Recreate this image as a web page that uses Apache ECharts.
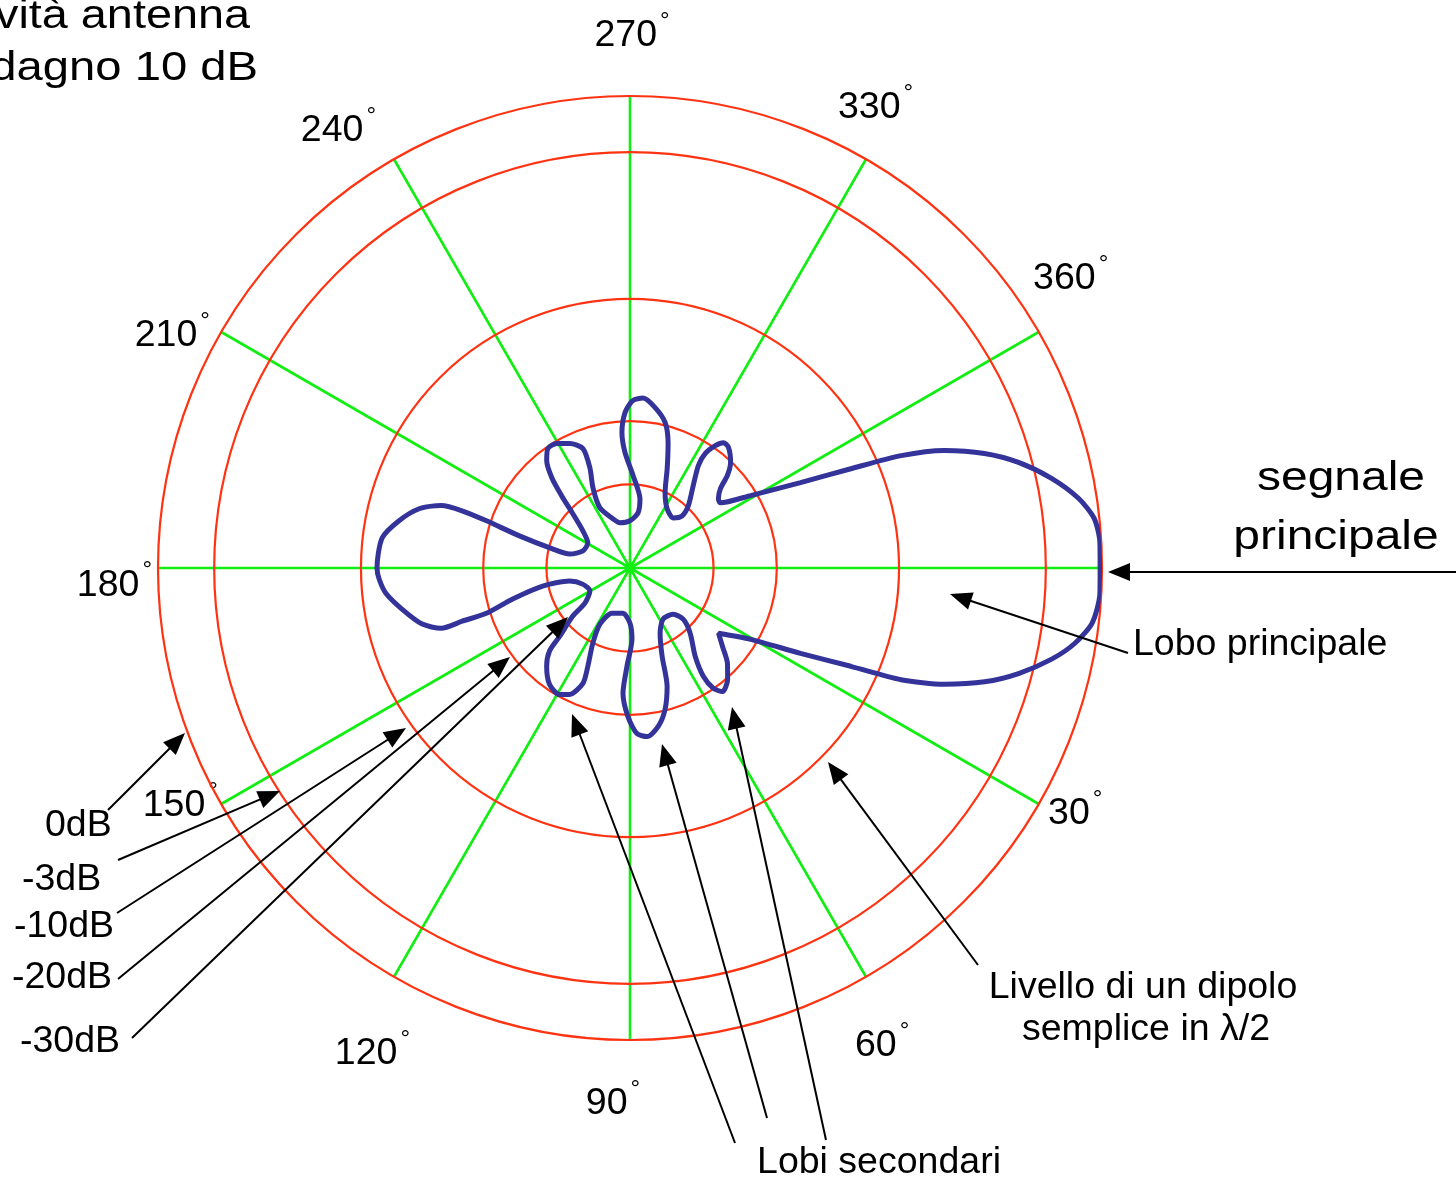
<!DOCTYPE html>
<html>
<head>
<meta charset="utf-8">
<script src="https://cdn.jsdelivr.net/npm/echarts@6/dist/echarts.min.js"></script>
<style>
html,body{margin:0;padding:0;background:#ffffff;}
#c{width:1456px;height:1182px;}
</style>
</head>
<body>
<div id="c"></div>
<script>
// ---- data ----
// reference rings: label and radius as % of the outer (0 dB) ring
const ringLabels = ['0dB', '-3dB', '-10dB', '-20dB', '-30dB'];
const ringLevels = [100, 88.1, 57.0, 31.1, 17.7];

// angle ticks (clockwise from the main-lobe direction) and their printed labels
const angleTicks = [0, 30, 60, 90, 120, 150, 180, 210, 240, 270, 300, 330];
const angleTickLabels = ['', '30', '60', '90', '120', '150', '180', '210', '240', '270', '330', '360'];

// radiation pattern, traced point by point (angle in degrees, level in % of outer ring)
const patternAngle = [0, 356.9, 353.9, 351.2, 348.0, 344.8, 342.1, 339.5, 337.5, 335.8, 333.4, 329.0, 324.2,
  321.9, 318.7, 316.5, 313.6, 309.2, 306.7, 304.9, 303.3, 303.7, 307.5, 313.1, 315.0, 310.7, 302.1, 295.0,
  290.5, 287.0, 283.6, 278.9, 274.4, 271.0, 268.2, 266.6, 267.5, 271.9, 278.2, 278.3, 270.0, 257.5, 250.9,
  243.4, 245.2, 248.2, 248.5, 244.2, 239.5, 235.4, 232.2, 229.1, 226.6, 223.5, 218.2, 210.8, 199.9, 193.1,
  193.9, 196.2, 198.2, 198.8, 198.3, 195.7, 191.5, 186.9, 180.0, 177.5, 174.1, 169.8, 164.9, 162.3, 162.4,
  162.5, 165.2, 168.3, 167.8, 161.2, 150.1, 142.1, 139.9, 135.8, 134.1, 130.3, 124.6, 119.1, 115.5, 112.2,
  113.2, 116.3, 118.2, 111.8, 98.8, 90.0, 88.4, 91.8, 93.2, 90.8, 87.6, 84.2, 79.9, 76.1, 72.6, 70.0, 65.2,
  57.1, 46.9, 43.9, 47.3, 53.6, 55.9, 55.3, 53.2, 48.8, 44.4, 40.3, 36.4, 30.6, 26.6, 24.0, 22.4, 20.3,
  17.8, 15.2, 12.2, 9.6, 6.8, 3.1, 360];
const patternLevel = [99.6, 99.7, 98.9, 96.2, 91.3, 85.3, 78.9, 71.1, 62.2, 51.3, 40.4, 29.8, 23.6,
  23.8, 25.5, 28.4, 30.9, 33.0, 33.1, 31.6, 29.0, 26.1, 22.0, 18.1, 15.6, 14.0, 14.8, 17.6,
  22.5, 27.6, 31.7, 34.4, 36.1, 35.5, 33.0, 28.8, 24.5, 19.6, 14.8, 11.8, 10.0, 9.8, 11.0,
  14.3, 18.7, 22.9, 27.2, 29.3, 30.6, 30.7, 28.8, 25.3, 21.1, 16.7, 12.7, 10.4, 10.6, 13.1,
  16.9, 24.4, 32.0, 37.6, 42.1, 46.4, 50.0, 52.9, 53.6, 53.2, 52.0, 49.1, 45.6, 42.0, 37.3,
  31.9, 25.7, 18.9, 13.1, 10.6, 9.8, 12.1, 15.9, 20.8, 24.5, 27.3, 30.0, 30.7, 29.7, 26.4,
  22.7, 17.8, 13.5, 10.3, 9.7, 11.7, 15.1, 20.9, 26.6, 31.5, 35.1, 35.9, 34.1, 30.9, 26.3, 19.9, 15.2,
  12.9, 13.4, 15.7, 18.8, 23.3, 27.7, 31.0, 32.7, 31.4, 28.9, 25.7, 23.3, 29.7, 40.4, 51.2, 62.1, 71.0,
  78.9, 85.3, 91.4, 95.6, 98.6, 99.7, 99.6];

// ---- layout / style ----
const CX = 630, CY = 568, R = 472;
const RED = '#ff3311', GREEN = '#11ee11', BLUE = '#33339a';
const FONT = '"Liberation Sans", Arial, Helvetica, sans-serif';
const FS = 37.5;
// per-label nudges (padding [top, right, bottom, left]) so tick labels sit where the original put them
const labelPad = [[0, 0, 0, 0], [29, 0, 0, 89], [122, 0, 0, 35], [129, 34, 0, 0], [130, 30, 0, 0],
  [21, 83, 0, 0], [27, 98, 0, 0], [0, 91, 23, 0], [0, 64, 89, 0], [0, 0, 133, 4], [0, 0, 112, 18], [0, 0, 80, 74]];

const chart = echarts.init(document.getElementById('c'), null, { renderer: 'canvas' });

const hiddenRadius = function (i) {
  return { polarIndex: i, type: 'value', min: 0, max: 100, show: false,
    axisLine: { show: false }, axisLabel: { show: false }, axisTick: { show: false },
    splitLine: { show: false }, splitArea: { show: false } };
};

// polar 0: pattern, spokes, outer ring
const polar = [{ center: [CX, CY], radius: R }];
const angleAxis = [{
  polarIndex: 0, type: 'value', min: 0, max: 360, interval: 30, startAngle: 0, clockwise: true,
  axisLine: { show: true, lineStyle: { color: RED, width: 2.2 } },
  axisTick: { show: false }, axisLabel: { show: false },
  splitLine: { show: true, lineStyle: { color: GREEN, width: 2.6 } },
  splitArea: { show: false }
}];
const radiusAxis = [hiddenRadius(0)];

// inner reference rings
ringLevels.slice(1).forEach(function (lv, k) {
  const i = k + 1;
  polar.push({ center: [CX, CY], radius: R * lv / 100 });
  angleAxis.push({
    polarIndex: i, type: 'value', min: 0, max: 360, startAngle: 0,
    axisLine: { show: true, lineStyle: { color: RED, width: 2.2 } },
    axisTick: { show: false }, axisLabel: { show: false },
    splitLine: { show: false }, splitArea: { show: false }
  });
  radiusAxis.push(hiddenRadius(i));
});

// tick-label polar (category angle axis, one label per spoke)
const LP = polar.length;
polar.push({ center: [CX, CY], radius: R });
angleAxis.push({
  polarIndex: LP, type: 'category', boundaryGap: false, startAngle: 0, clockwise: true,
  data: angleTickLabels.map(function (t, i) {
    return { value: t || ' ', textStyle: { padding: labelPad[i] } };
  }),
  axisLine: { show: false }, axisTick: { show: false },
  splitLine: { show: false }, splitArea: { show: false },
  axisLabel: {
    show: true, interval: 0, margin: -92, color: '#000',
    formatter: function (v) {
      return v && v.trim() ? '{n|' + v + '}{d|°}' : '';
    },
    rich: {
      n: { fontSize: FS, fontFamily: FONT, color: '#000', padding: [8, 0, 0, 0] },
      d: { fontSize: 24, fontFamily: FONT, color: '#000', verticalAlign: 'top', padding: [0, 0, 0, 3] }
    }
  }
});
radiusAxis.push(hiddenRadius(LP));

function arrow(x1, y1, x2, y2) {
  const dx = x2 - x1, dy = y2 - y1, L = Math.hypot(dx, dy), ux = dx / L, uy = dy / L;
  const hl = 22, hw = 9;
  const bx = x2 - ux * hl, by = y2 - uy * hl;
  return [
    { type: 'line', z: 100, shape: { x1: x1, y1: y1, x2: bx + ux * 3, y2: by + uy * 3 },
      style: { stroke: '#000', lineWidth: 2 } },
    { type: 'polygon', z: 100, shape: { points: [[x2, y2], [bx - uy * hw, by + ux * hw], [bx + uy * hw, by - ux * hw]] },
      style: { fill: '#000' } }
  ];
}
function txt(text, x, y, size, align, extra) {
  return Object.assign({
    type: 'text', x: x, y: y, z: 100,
    style: { text: text, fill: '#000', font: size + 'px ' + FONT,
      align: align, verticalAlign: 'middle', textAlign: align, textVerticalAlign: 'middle' }
  }, extra || {});
}

const graphics = [].concat(
  // title (cut by the left edge, as in the original)
  [txt('Direttività antenna', 250, 17, 40, 'right', { scaleX: 1.17 }),
   txt('guadagno 10 dB', 258, 69, 40, 'right', { scaleX: 1.18 })],
  // main signal
  arrow(1456, 572, 1108, 572),
  [txt('segnale', 1341, 479, 41, 'center', { scaleX: 1.17 }),
   txt('principale', 1336, 538, 41, 'center', { scaleX: 1.17 })],
  // main lobe
  arrow(1128, 653, 950, 594),
  [txt('Lobo principale', 1133, 645, FS, 'left')],
  // dipole level
  arrow(978, 965, 828, 762),
  [txt('Livello di un dipolo', 1143, 988, FS, 'center'),
   txt('semplice in λ/2', 1146, 1030, FS, 'center')],
  // side lobes
  arrow(735, 1143, 572, 714),
  arrow(767, 1118, 662, 744),
  arrow(826, 1140, 732, 707),
  [txt('Lobi secondari', 879, 1163, FS, 'center')],
  // ring level labels
  arrow(108, 810, 185, 733),
  arrow(118, 860, 280, 791),
  arrow(117, 913, 406, 728),
  arrow(118, 979, 510, 657),
  arrow(132, 1038, 568, 617),
  [txt(ringLabels[0], 45, 826, FS, 'left'),
   txt(ringLabels[1], 22, 880, FS, 'left'),
   txt(ringLabels[2], 14, 927, FS, 'left'),
   txt(ringLabels[3], 12, 978, FS, 'left'),
   txt(ringLabels[4], 20, 1042, FS, 'left')]
);

chart.setOption({
  animation: false,
  backgroundColor: '#ffffff',
  polar: polar,
  angleAxis: angleAxis,
  radiusAxis: radiusAxis,
  series: [{
    type: 'line', coordinateSystem: 'polar', polarIndex: 0,
    data: patternLevel.map(function (r, i) { return [r, patternAngle[i]]; }),
    showSymbol: false, symbol: 'none', smooth: 0.25,
    lineStyle: { color: BLUE, width: 5 }, z: 10, silent: true
  }],
  graphic: graphics
});
</script>
</body>
</html>
